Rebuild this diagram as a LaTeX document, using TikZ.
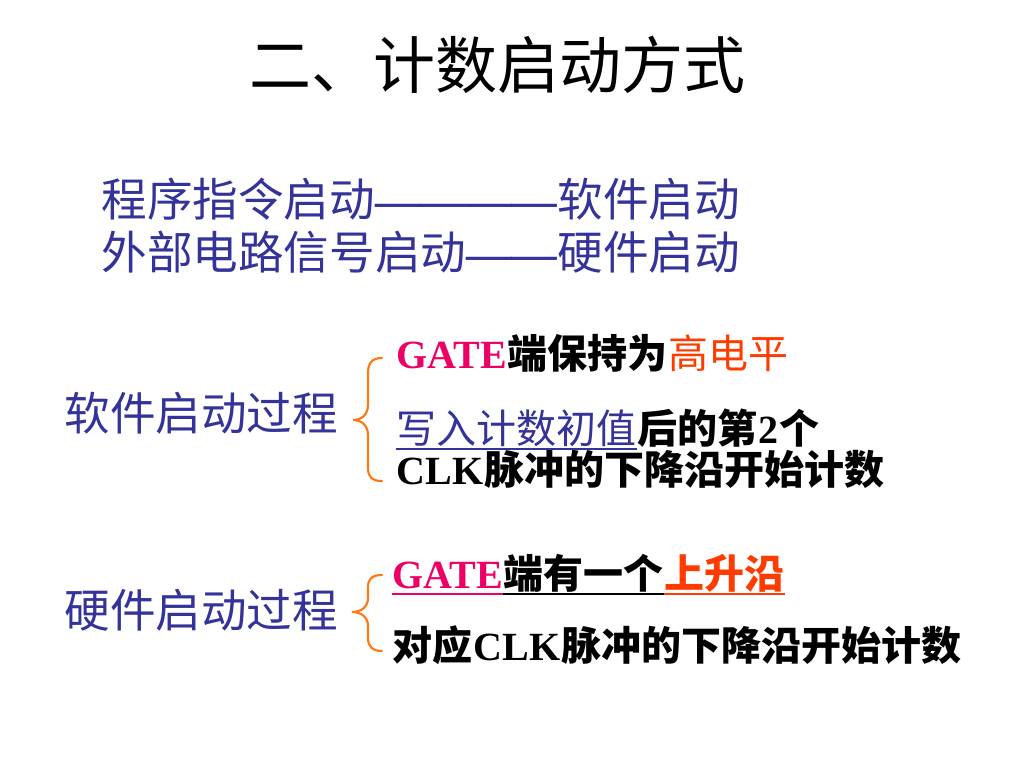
\documentclass[tikz,border=0pt]{standalone}
\usepackage{fontspec}
\setmainfont{Liberation Serif}
\newfontfamily\cjk{Noto Sans CJK SC}
\IfFontExistsTF{LiberationSerif-Bold.ttf}
  {\newfontfamily\enbold{LiberationSerif-Bold.ttf}}
  {\IfFontExistsTF{DejaVu Serif Condensed Bold}
    {\newfontfamily\enbold{DejaVu Serif Condensed Bold}}
    {\newfontfamily\enbold{Liberation Serif}}}
\usetikzlibrary{calc}

\definecolor{textblue}{RGB}{51,51,153}
\definecolor{gatepink}{RGB}{236,0,100}
\definecolor{hotred}{RGB}{255,60,0}
\definecolor{braceorange}{RGB}{255,120,20}

\newcommand\titlefont{\fontsize{46.5}{56}\cjk}
\newcommand\zhbig{\fontsize{34.2}{40}\cjk}
\newcommand\dashbig{\fontsize{34.2}{40}\enbold}
\newcommand\zhsub{\fontsize{30}{36}\cjk}
\newcommand\ensub{\fontsize{30}{36}\enbold}

\tikzset{every picture/.style={line width=0.75pt},
  txt/.style={inner sep=0pt, anchor=base west},
  nextto/.style={inner sep=0pt, anchor=base west, at={(#1.base east)}},
  bracestyle/.style={draw=braceorange, line width=1.6pt, line cap=round},
  uline/.style={line width=1.4pt}}

\begin{document}
\begin{tikzpicture}[x=0.75pt,y=0.75pt,yscale=-1,xscale=1]
\path[fill=white] (0,0) rectangle (1024,768);
\useasboundingbox (0,0) rectangle (1024,768);

% Text Node
\node[txt, anchor=base] (title) at (497,88) {\titlefont 二、计数启动方式};
% Text Node
\node[txt, text=textblue] (prog) at (101,216) {\zhbig 程序指令启动\dashbig ————\zhbig 软件启动};
% Text Node
\node[txt, text=textblue] (ext) at (101,269) {\zhbig 外部电路信号启动\dashbig ——\zhbig 硬件启动};
% Text Node
\node[txt, text=textblue] (swproc) at (64,430) {\zhbig 软件启动过程};
% Text Node
\node[txt, text=textblue] (hwproc) at (64,627) {\zhbig 硬件启动过程};

%Shape: Brace
\draw[bracestyle] (382,358) .. controls (372,358) and (368,363) .. (368,373) -- (368,405) .. controls (368,414) and (362,420) .. (353,420) .. controls (362,420) and (368,426) .. (368,435) -- (368,468) .. controls (368,477) and (372,481) .. (382,481) ;
%Shape: Brace
\draw[bracestyle] (382,575) .. controls (372,575) and (368,579) .. (368,587) -- (368,598) .. controls (368,607) and (361,612) .. (352,612) .. controls (361,612) and (368,617) .. (368,626) -- (368,638) .. controls (368,646) and (372,651) .. (382,651) ;

% Text Node
\node[txt, text=gatepink] (gatehi) at (396,368) {\ensub GATE};
\node[nextto=gatehi] (keephi) {\zhsub\bfseries 端保持为};
\node[nextto=keephi, text=hotred] (highlvl) {\zhsub 高电平};
% Text Node
\node[txt, text=textblue] (wrinit) at (396,443) {\zhsub 写入计数初值};
\node[nextto=wrinit] (after) {\zhsub\bfseries 后的第};
\node[nextto=after] (two) {\ensub 2};
\node[nextto=two] (ge) {\zhsub\bfseries 个};
% Text Node
\node[txt] (clka) at (396,484) {\ensub CLK};
\node[nextto=clka] (fallsw) {\zhsub\bfseries 脉冲的下降沿开始计数};

% Text Node
\node[txt, text=gatepink] (gaterise) at (392,588) {\ensub GATE};
\node[nextto=gaterise] (hasone) {\zhsub\bfseries 端有一个};
\node[nextto=hasone, text=hotred] (rise) {\zhsub\bfseries 上升沿};
% Text Node
\node[txt] (match) at (392,660) {\zhsub\bfseries 对应};
\node[nextto=match] (clkb) {\ensub CLK};
\node[nextto=clkb] (fallhw) {\zhsub\bfseries 脉冲的下降沿开始计数};

%Straight Lines
\draw[uline, textblue] ($(wrinit.base west)+(0,6)$) -- ($(wrinit.base east)+(0,6)$) ;
\draw[uline, gatepink] ($(gaterise.base west)+(0,6)$) -- ($(gaterise.base east)+(0,6)$) ;
\draw[uline, black] ($(hasone.base west)+(0,6)$) -- ($(hasone.base east)+(0,6)$) ;
\draw[uline, hotred] ($(rise.base west)+(0,6)$) -- ($(rise.base east)+(0,6)$) ;

\end{tikzpicture}
\end{document}
